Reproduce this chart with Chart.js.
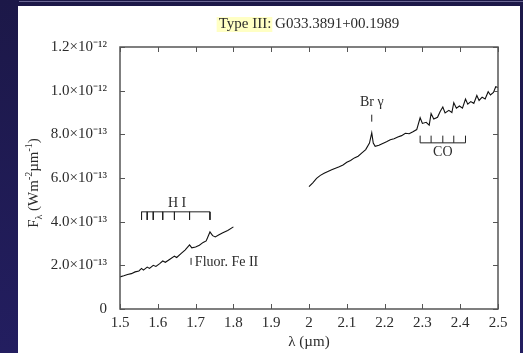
<!DOCTYPE html>
<html lang="en">
<head>
<meta charset="UTF-8" />
<title>Type III: G033.3891+00.1989</title>
<script src="https://cdn.jsdelivr.net/npm/chart.js@4.4.0/dist/chart.umd.min.js"></script>
<style>
  html, body { margin: 0; padding: 0; }
  body {
    width: 523px; height: 353px; overflow: hidden; position: relative;
    background: linear-gradient(180deg, #1c1848 0%, #231e60 100%);
  }
  #topline { position: absolute; left: 19px; top: 1px; width: 504px; height: 1px; background: #6a6693; }
  #panel { position: absolute; left: 18px; top: 6px; width: 502px; height: 347px; background: #fff; }
  canvas { display: block; }
</style>
</head>
<body>
<div id="topline"></div>
<div id="panel"><canvas id="spec" width="502" height="347"></canvas></div>

<script>
// flux in units of 1e-13 W m^-2 um^-1
const lambdaH = [1.500, 1.510, 1.520, 1.530, 1.540, 1.550, 1.557, 1.562, 1.572, 1.578,
                 1.588, 1.595, 1.605, 1.613, 1.620, 1.632, 1.644, 1.650, 1.662, 1.672,
                 1.684, 1.690, 1.700, 1.710, 1.720, 1.728, 1.738, 1.745, 1.752, 1.762,
                 1.772, 1.785, 1.800];
const fluxH = [1.47, 1.52, 1.58, 1.62, 1.70, 1.74, 1.86, 1.78, 1.92, 1.86,
               2.00, 1.95, 2.08, 2.20, 2.14, 2.28, 2.42, 2.36, 2.55, 2.70,
               2.94, 2.80, 2.84, 2.92, 3.05, 3.12, 3.53, 3.36, 3.30, 3.40,
               3.49, 3.60, 3.76];

const lambdaK = [2.000, 2.010, 2.020, 2.030, 2.040, 2.050, 2.060, 2.070, 2.080, 2.090,
                 2.100, 2.110, 2.120, 2.130, 2.140, 2.150, 2.160, 2.166, 2.170, 2.175,
                 2.185, 2.195, 2.205, 2.215, 2.225, 2.235, 2.245, 2.255, 2.265, 2.275,
                 2.285, 2.294, 2.300, 2.310, 2.318, 2.323, 2.330, 2.340, 2.347, 2.354,
                 2.360, 2.370, 2.378, 2.383, 2.390, 2.398, 2.406, 2.414, 2.420, 2.428,
                 2.436, 2.444, 2.450, 2.458, 2.466, 2.474, 2.480, 2.488, 2.494, 2.500];
const fluxK = [5.60, 5.78, 5.98, 6.12, 6.22, 6.30, 6.38, 6.45, 6.52, 6.60,
               6.72, 6.80, 6.92, 7.00, 7.15, 7.30, 7.60, 8.07, 7.60, 7.45,
               7.50, 7.58, 7.66, 7.75, 7.80, 7.88, 7.94, 8.05, 8.03, 8.12,
               8.22, 8.76, 8.50, 8.55, 8.42, 8.95, 8.70, 8.78, 9.05, 9.25,
               8.98, 9.10, 9.00, 9.45, 9.20, 9.30, 9.20, 9.62, 9.38, 9.50,
               9.42, 9.78, 9.55, 9.70, 9.62, 9.95, 9.80, 9.92, 10.18, 10.14];

const xTickLabels = ["1.5", "1.6", "1.7", "1.8", "1.9", "2", "2.1", "2.2", "2.3", "2.4", "2.5"];
const yTickLabels = ["0", "2.0×10⁻¹³", "4.0×10⁻¹³", "6.0×10⁻¹³", "8.0×10⁻¹³", "1.0×10⁻¹²", "1.2×10⁻¹²"];

// line identifications
const hiLines = [1.557, 1.572, 1.588, 1.613, 1.644, 1.684, 1.738];
const hiBar = [4.45, 4.08];      // bar level, tick end
const coLines = [2.294, 2.323, 2.354, 2.383, 2.414];
const coBar = [7.61, 7.94];
const brGammaLine = [2.166, 8.58, 8.90];
const feIILine = [1.688, 2.02, 2.34];
const lineLabels = ["H I", "Br γ", "CO", "Fluor. Fe II"];
const lineLabelX = [1.651, 2.166, 2.354, 1.698];
const lineLabelY = [4.82, 9.45, 7.16, 2.16];

const serif = "'Liberation Serif', 'Times New Roman', serif";
const ink = "#2b2b2b";

function pts(xs, ys) {
  return xs.map((v, i) => ({ x: v, y: ys[i] }));
}

function bracket(lines, bar) {
  const p = [{ x: lines[0], y: bar[0] }, { x: lines[lines.length - 1], y: bar[0] }, { x: lines[0], y: null }];
  lines.forEach(l => p.push({ x: l, y: bar[0] }, { x: l, y: bar[1] }, { x: l, y: null }));
  return p;
}

const markStyle = { borderColor: "#222", borderWidth: 1, pointRadius: 0, spanGaps: false };

// inward ticks on all four sides + frame
const innerFrame = {
  id: "innerFrame",
  afterDatasetsDraw(chart) {
    const { ctx, chartArea: a, scales: { x, y } } = chart;
    ctx.save();
    ctx.strokeStyle = "#555";
    ctx.lineWidth = 1;
    ctx.beginPath();
    x.ticks.forEach(t => {
      const px = Math.round(x.getPixelForValue(t.value)) + 0.5;
      ctx.moveTo(px, a.bottom); ctx.lineTo(px, a.bottom - 5);
      ctx.moveTo(px, a.top); ctx.lineTo(px, a.top + 5);
    });
    y.ticks.forEach(t => {
      const py = Math.round(y.getPixelForValue(t.value)) + 0.5;
      ctx.moveTo(a.left, py); ctx.lineTo(a.left + 5, py);
      ctx.moveTo(a.right, py); ctx.lineTo(a.right - 5, py);
    });
    ctx.stroke();
    ctx.lineWidth = 1.5;
    ctx.strokeRect(a.left, a.top, a.width, a.height);
    ctx.restore();
  }
};

// title, axis titles and line labels
const texts = {
  id: "texts",
  afterDraw(chart) {
    const { ctx, chartArea: a, scales: { x, y } } = chart;
    ctx.save();
    ctx.fillStyle = ink;

    // title with highlighted "Type III:"
    ctx.font = "15px " + serif;
    ctx.textBaseline = "middle";
    const t1 = "Type III:", t2 = " G033.3891+00.1989";
    const w1 = ctx.measureText(t1).width, w2 = ctx.measureText(t2).width;
    const tx = (a.left + a.right) / 2 - (w1 + w2) / 2;
    ctx.fillStyle = "#ffffc4";
    ctx.fillRect(tx - 2, 11, w1 + 3, 15);
    ctx.fillStyle = ink;
    ctx.textAlign = "left";
    ctx.fillText(t1, tx, 18);
    ctx.fillText(t2, tx + w1, 18);

    // x title
    ctx.textAlign = "center";
    ctx.fillText("λ (µm)", (a.left + a.right) / 2, 336);

    // y title, rotated, with sub/superscripts
    const parts = [["F", 15, 0], ["λ", 10, 4], [" (Wm", 15, 0], ["-2", 10, -6], ["µm", 15, 0], ["-1", 10, -6], [")", 15, 0]];
    let total = 0;
    parts.forEach(p => { ctx.font = p[1] + "px " + serif; total += ctx.measureText(p[0]).width; });
    ctx.translate(20, 177);
    ctx.rotate(-Math.PI / 2);
    ctx.textAlign = "left";
    ctx.textBaseline = "alphabetic";
    let cx = -total / 2;
    parts.forEach(p => {
      ctx.font = p[1] + "px " + serif;
      ctx.fillText(p[0], cx, p[2]);
      cx += ctx.measureText(p[0]).width;
    });
    ctx.setTransform(1, 0, 0, 1, 0, 0);

    // line labels
    ctx.font = "14px " + serif;
    ctx.textBaseline = "middle";
    lineLabels.forEach((s, i) => {
      ctx.textAlign = i === 3 ? "left" : "center";
      ctx.fillText(s, x.getPixelForValue(lineLabelX[i]), y.getPixelForValue(lineLabelY[i]));
    });
    ctx.restore();
  }
};

new Chart(document.getElementById("spec"), {
  type: "line",
  data: {
    datasets: [
      { data: pts(lambdaH, fluxH), borderColor: "#111", borderWidth: 1.1, pointRadius: 0, tension: 0 },
      { data: pts(lambdaK, fluxK), borderColor: "#111", borderWidth: 1.1, pointRadius: 0, tension: 0 },
      { data: bracket(hiLines, hiBar), ...markStyle },
      { data: bracket(coLines, coBar), ...markStyle },
      { data: [{ x: brGammaLine[0], y: brGammaLine[1] }, { x: brGammaLine[0], y: brGammaLine[2] }], ...markStyle },
      { data: [{ x: feIILine[0], y: feIILine[1] }, { x: feIILine[0], y: feIILine[2] }], ...markStyle }
    ]
  },
  options: {
    responsive: false,
    animation: false,
    devicePixelRatio: 1,
    layout: { padding: { left: 0, right: 22, top: 41, bottom: 0 } },
    plugins: { legend: { display: false }, tooltip: { enabled: false } },
    scales: {
      x: {
        type: "linear", min: 1.5, max: 2.5,
        grid: { display: false }, border: { display: false },
        afterFit: s => { s.height = 44; },
        ticks: {
          stepSize: 0.1, maxRotation: 0, autoSkip: false, padding: -3,
          color: ink, font: { family: serif, size: 15 },
          callback: (v, i) => xTickLabels[i]
        }
      },
      y: {
        min: 0, max: 12,
        grid: { display: false }, border: { display: false },
        afterFit: s => { s.width = 102; },
        ticks: {
          stepSize: 2, padding: 5,
          color: ink, font: { family: serif, size: 15 },
          callback: (v, i) => yTickLabels[i]
        }
      }
    }
  },
  plugins: [innerFrame, texts]
});
</script>
</body>
</html>
